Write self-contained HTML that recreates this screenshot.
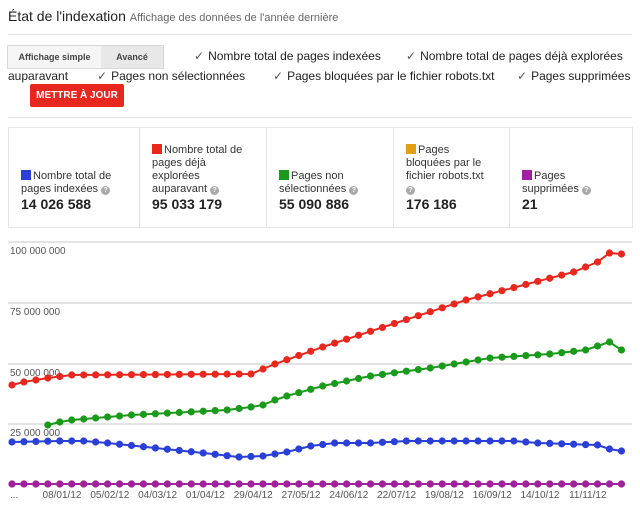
<!DOCTYPE html>
<html><head><meta charset="utf-8"><style>
body{margin:0;width:640px;height:512px;background:#fff;font-family:"Liberation Sans",Arial,sans-serif;color:#222;position:relative;overflow:hidden}
.a{position:absolute;white-space:nowrap}
.hr{position:absolute;left:8px;right:8px;height:1px;background:#e5e5e5}
.cb{font-size:12px}
.cb span{color:#555;margin-right:4px}
.box{position:absolute;left:8px;top:127px;width:623px;height:99px;border:1px solid #e5e5e5}
.col{position:absolute;top:0;height:99px;border-left:1px solid #e5e5e5;font-size:11px;color:#333;line-height:13px}
.col .in{position:absolute;left:12px;bottom:14px}
.sq{display:inline-block;width:10px;height:10px;margin-right:2px;vertical-align:-1px}
.q{display:inline-block;width:9px;height:9px;border-radius:50%;background:#aaa;color:#fff;font-size:7px;line-height:9px;text-align:center;font-weight:bold;vertical-align:0}
.n{font-weight:bold;font-size:14px;color:#222;line-height:17px}
</style></head><body>
<div class="a" style="left:8px;top:8px;font-size:14px">État de l'indexation <span style="font-size:11px;color:#666">Affichage des données de l'année dernière</span></div>
<div class="hr" style="top:34px"></div>
<div class="a" style="left:7px;top:45px;width:155px;height:22px;border:1px solid #d8d8d8;background:#f5f5f5;font-size:9px;font-weight:bold;color:#444">
<div style="position:absolute;left:0;top:0;width:93px;height:22px;line-height:22px;text-align:center">Affichage simple</div>
<div style="position:absolute;left:93px;top:0;width:62px;height:22px;background:#e8e8e8;line-height:22px;text-align:center">Avancé</div></div>
<div class="a cb" style="left:194px;top:49px"><span>✓</span>Nombre total de pages indexées</div>
<div class="a cb" style="left:406px;top:49px"><span>✓</span>Nombre total de pages déjà explorées</div>
<div class="a cb" style="left:8px;top:69px">auparavant</div>
<div class="a cb" style="left:97px;top:69px"><span>✓</span>Pages non sélectionnées</div>
<div class="a cb" style="left:273px;top:69px"><span>✓</span>Pages bloquées par le fichier robots.txt</div>
<div class="a cb" style="left:517px;top:69px"><span>✓</span>Pages supprimées</div>
<div class="a" style="left:30px;top:84px;width:94px;height:23px;background:#e8281e;border-radius:2px;color:#fff;font-size:10px;font-weight:bold;line-height:23px;text-align:center">METTRE À JOUR</div>
<div class="hr" style="top:117px"></div>
<div class="box">
<div class="col" style="left:0;border:none;width:130px"><div class="in"><span class="sq" style="background:#2a3fd8"></span>Nombre total de<br>pages indexées <span class="q">?</span><div class="n">14 026 588</div></div></div>
<div class="col" style="left:130px;width:127px"><div class="in"><span class="sq" style="background:#e8281e"></span>Nombre total de<br>pages déjà<br>explorées<br>auparavant <span class="q">?</span><div class="n">95 033 179</div></div></div>
<div class="col" style="left:257px;width:127px"><div class="in"><span class="sq" style="background:#1a9a1a"></span>Pages non<br>sélectionnées <span class="q">?</span><div class="n">55 090 886</div></div></div>
<div class="col" style="left:384px;width:116px"><div class="in"><span class="sq" style="background:#e0a010"></span>Pages<br>bloquées par le<br>fichier robots.txt<br><span class="q">?</span><div class="n">176 186</div></div></div>
<div class="col" style="left:500px;width:122px"><div class="in"><span class="sq" style="background:#a020a0"></span>Pages<br>supprimées <span class="q">?</span><div class="n">21</div></div></div>
</div>
<svg id="ch" class="a" style="left:0;top:0" width="640" height="512" font-family="Liberation Sans, Arial, sans-serif" font-size="10" fill="#555">
<line x1="8" x2="632" y1="242" y2="242" stroke="#e3e3e3" stroke-width="2"/>
<line x1="8" x2="632" y1="303" y2="303" stroke="#e3e3e3" stroke-width="2"/>
<line x1="8" x2="632" y1="364" y2="364" stroke="#e3e3e3" stroke-width="2"/>
<line x1="8" x2="632" y1="424" y2="424" stroke="#e3e3e3" stroke-width="2"/>
<text x="10" y="254">100 000 000</text>
<text x="10" y="315">75 000 000</text>
<text x="10" y="376">50 000 000</text>
<text x="10" y="436">25 000 000</text>
<text x="10" y="498">...</text>
<g id="dates" text-anchor="middle"></g>
</svg>
<script>
function interp(k){var r=[];for(var i=0;i<52;i++){var a,b;for(var j=0;j<k.length-1;j++){if(i>=k[j][0]&&i<=k[j+1][0]){a=k[j];b=k[j+1];break;}}if(!a){r.push(null);continue;}var t=b[0]==a[0]?0:(i-a[0])/(b[0]-a[0]);r.push(a[1]+t*(b[1]-a[1]));}return r;}
var S=[
["#e0a010",interp([[0,484],[51,484]])],
["#2a3fd8",interp([[0,442],[4,441],[6,441],[8,443],[12,448],[16,453],[19,457],[21,456],[23,452],[25,446],[27,443],[30,443],[33,441],[42,441],[44,443],[49,445],[50,449],[51,451]])],
["#1a9a1a",interp([[3,425],[4,422],[5,420],[10,415],[18,410],[20,407],[21,405],[22,400],[23,396],[26,386],[30,376],[35,368],[40,358],[45,354],[48,350],[50,342],[51,350]])],
["#e8281e",interp([[0,385],[1,382],[2,380],[3,378],[5,375],[20,374],[21,369],[22,364],[26,347],[38,300],[47,272],[49,262],[50,253],[51,254]])],
["#a020a0",interp([[0,484],[51,484]])]];
var svg=document.getElementById('ch'),ns="http://www.w3.org/2000/svg";
S.forEach(function(s){var d="";s[1].forEach(function(y,i){if(y==null)return;var x=12+i*11.95;d+=(d?"L":"M")+x.toFixed(1)+" "+y.toFixed(1);var c=document.createElementNS(ns,"circle");c.setAttribute("cx",x);c.setAttribute("cy",y);c.setAttribute("r",3.6);c.setAttribute("fill",s[0]);svg.appendChild(c);});var p=document.createElementNS(ns,"path");p.setAttribute("d",d);p.setAttribute("stroke",s[0]);p.setAttribute("stroke-width",2);p.setAttribute("fill","none");svg.insertBefore(p,svg.querySelector('circle'));});
var L=["08/01/12","05/02/12","04/03/12","01/04/12","29/04/12","27/05/12","24/06/12","22/07/12","19/08/12","16/09/12","14/10/12","11/11/12"],g=document.getElementById('dates');
L.forEach(function(t,i){var e=document.createElementNS(ns,"text");e.setAttribute("x",62+i*47.8);e.setAttribute("y",498);e.textContent=t;g.appendChild(e);});
</script>
</body></html>
